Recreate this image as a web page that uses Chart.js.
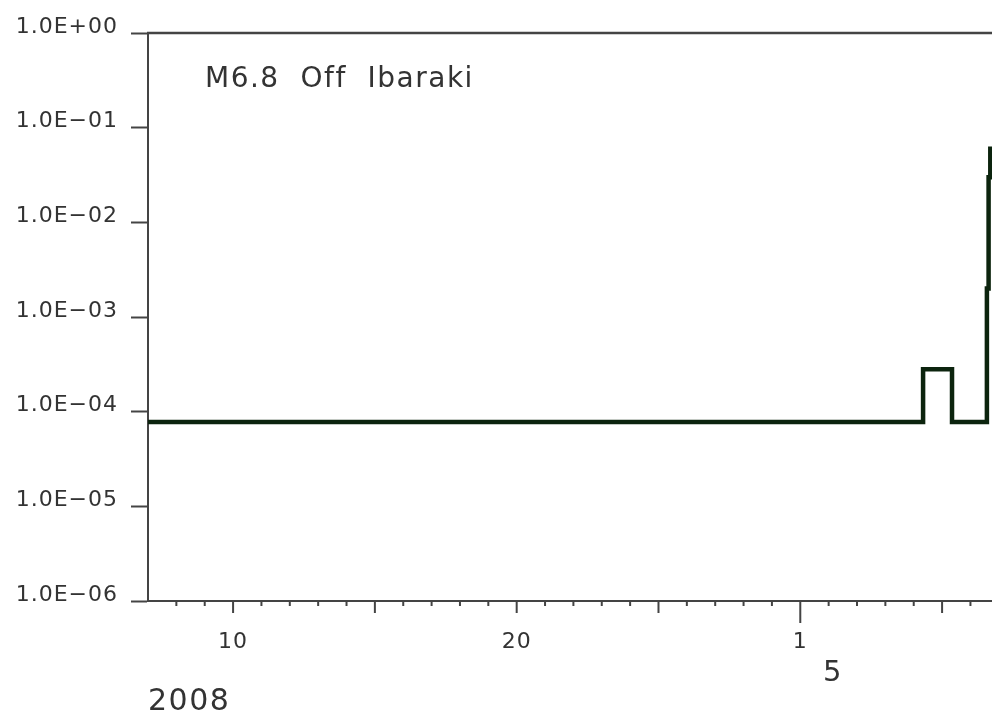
<!DOCTYPE html>
<html>
<head>
<meta charset="utf-8">
<script src="https://cdn.jsdelivr.net/npm/chart.js@4.4.0/dist/chart.umd.min.js"></script>
<style>
  html, body { margin: 0; padding: 0; background: #fff; }
  #wrap { width: 992px; height: 716px; }
</style>
</head>
<body>
<div id="wrap"><canvas id="myChart" width="992" height="716"></canvas></div>
<script>
// step series: day index (April days, axis tick 30 = May 1) and probability
const dayX = [7, 34.33, 35.35, 36.58, 36.64, 36.70, 36.76];
const prob = [7.8e-5, 2.8e-4, 7.8e-5, 2.0e-3, 3.0e-2, 6.0e-2, 6.0e-2];

const yTicks = [1, 1e-1, 1e-2, 1e-3, 1e-4, 1e-5, 1e-6];
const yTickLabels = ['1.0E+00', '1.0E\u221201', '1.0E\u221202', '1.0E\u221203', '1.0E\u221204', '1.0E\u221205', '1.0E\u221206'];

const xTicks = [10, 20, 30];
const xTickLabels = ['10', '20', '1'];
const monthLabel = '5';
const yearLabel = '2008';
const titleText = 'M6.8  Off  Ibaraki';

const FONT = 'DejaVu Sans';
const INK = '#333';

// extra decorations: top frame line, day ticks, title, month & year
const decor = {
    id: 'decor',
    beforeDraw(chart) {
        chart.ctx.letterSpacing = '1px';
    },
    afterDraw(chart) {
        const ctx = chart.ctx;
        const area = chart.chartArea;
        const xs = chart.scales.x;
        ctx.save();
        ctx.strokeStyle = '#444';
        ctx.lineWidth = 2.5;
        ctx.beginPath();
        ctx.moveTo(area.left - 1, area.top);
        ctx.lineTo(area.right, area.top);
        ctx.stroke();

        ctx.lineWidth = 2;
        for (let d = 8; d <= 36; d++) {
            const px = xs.getPixelForValue(d);
            let len = 5;
            if (d % 5 === 0) len = 12;
            if (d === 30) len = 22;
            ctx.beginPath();
            ctx.moveTo(px, area.bottom);
            ctx.lineTo(px, area.bottom + len);
            ctx.stroke();
        }

        ctx.fillStyle = INK;
        ctx.textBaseline = 'alphabetic';
        ctx.textAlign = 'left';
        ctx.letterSpacing = '1.5px';
        ctx.font = '28px "' + FONT + '"';
        ctx.fillText(titleText, area.left + 57, area.top + 54);

        ctx.letterSpacing = '0px';
        ctx.font = '29px "' + FONT + '"';
        ctx.textAlign = 'center';
        ctx.fillText(monthLabel, xs.getPixelForValue(30) + 32, area.bottom + 80);

        ctx.letterSpacing = '1.5px';
        ctx.font = '30px "' + FONT + '"';
        ctx.textAlign = 'left';
        ctx.fillText(yearLabel, area.left, area.bottom + 109);
        ctx.restore();
        ctx.letterSpacing = '0px';
    }
};

const ctx = document.getElementById('myChart').getContext('2d');
const chart = new Chart(ctx, {
    type: 'line',
    data: {
        datasets: [{
            data: dayX.map((x, i) => ({ x: x, y: prob[i] })),
            stepped: 'before',
            borderColor: '#0c240e',
            borderWidth: 4.5,
            pointRadius: 0,
            fill: false
        }]
    },
    options: {
        responsive: false,
        animation: false,
        devicePixelRatio: 1,
        layout: { padding: { top: 33, right: 0, left: 0, bottom: 0 } },
        plugins: {
            legend: { display: false },
            tooltip: { enabled: false }
        },
        scales: {
            x: {
                type: 'linear',
                min: 7,
                max: 36.76,
                afterFit: (scale) => { scale.height = 115; },
                afterBuildTicks: (scale) => { scale.ticks = xTicks.map(v => ({ value: v })); },
                grid: { display: false },
                border: { display: true, color: '#444', width: 2 },
                ticks: {
                    padding: 20,
                    autoSkip: false,
                    maxRotation: 0,
                    color: INK,
                    font: { family: FONT, size: 22 },
                    callback: (v) => {
                        const i = xTicks.indexOf(v);
                        return i >= 0 ? xTickLabels[i] : '';
                    }
                }
            },
            y: {
                type: 'logarithmic',
                min: 1e-6,
                max: 1,
                afterFit: (scale) => { scale.width = 148; },
                afterBuildTicks: (scale) => { scale.ticks = yTicks.map(v => ({ value: v })); },
                grid: {
                    drawOnChartArea: false,
                    drawTicks: true,
                    tickLength: 17,
                    tickColor: '#444',
                    tickWidth: 2
                },
                border: { display: true, color: '#444', width: 2 },
                ticks: {
                    padding: 13,
                    labelOffset: -6,
                    autoSkip: false,
                    color: INK,
                    font: { family: FONT, size: 22 },
                    callback: (v) => {
                        const i = yTicks.findIndex(t => Math.abs(Math.log10(t) - Math.log10(v)) < 1e-6);
                        return i >= 0 ? yTickLabels[i] : '';
                    }
                }
            }
        }
    },
    plugins: [decor]
});
</script>
</body>
</html>
